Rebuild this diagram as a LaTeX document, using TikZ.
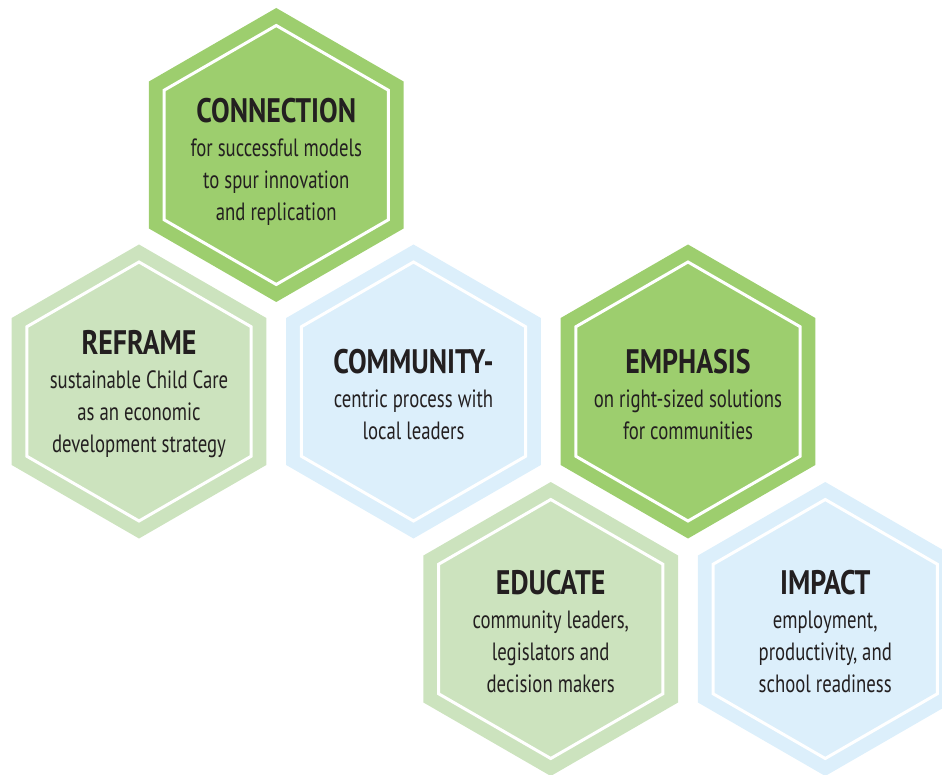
\documentclass[tikz,border=0pt]{standalone}
\usepackage{fontspec}
\setmainfont{PT Sans}[FakeStretch=0.75]
\newfontfamily\headfont{PT Sans}[FakeStretch=0.82]
\usepackage{tikz}
\usetikzlibrary{shapes.geometric,positioning}

\definecolor{leafgreen}{RGB}{157,206,110}
\definecolor{palegreen}{RGB}{204,227,190}
\definecolor{paleblue}{RGB}{220,239,251}
\definecolor{ink}{HTML}{231F20}

\tikzset{
  outerhex/.style = {regular polygon, regular polygon sides = 6, shape border rotate = 30,
                     minimum size = 294pt, inner sep = 0pt, draw = none},
  innerhex/.style = {regular polygon, regular polygon sides = 6, shape border rotate = 30,
                     minimum size = 259pt, inner sep = 0pt, draw = white, line width = 3pt},
  hextext/.style  = {text = ink, align = center, inner sep = 0pt, yshift = -3pt,
                     font = \fontsize{25}{32}\selectfont}
}
\newcommand{\hexhead}[1]{{\headfont\fontsize{34}{34}\selectfont\bfseries #1}\\[2pt]}

\begin{document}
\begin{tikzpicture}[x = 1pt, y = -1pt]
\useasboundingbox (0,0) rectangle (942,775);
\clip (0,0) rectangle (942,775);

% hexagons
\node[outerhex, fill = leafgreen] (connection) at (276.25,155) {};
\node[outerhex, fill = palegreen] (reframe) at (139,391.5) {};
\node[outerhex, fill = paleblue] (community) at (413.5,391.5) {};
\node[outerhex, fill = leafgreen] (emphasis) at (688,391.5) {};
\node[outerhex, fill = palegreen] (educate) at (550.75,629) {};
\node[outerhex, fill = paleblue] (impact) at (825.25,629) {};

% white inner outlines
\foreach \cell in {connection, reframe, community, emphasis, educate, impact}
  \node[innerhex] (\cell-rim) at (\cell.center) {};

% texts
\node[hextext, yshift = -4pt] (connection-text) at (connection) {\hexhead{CONNECTION}for successful models\\to spur innovation\\and replication};
\node[hextext] (reframe-text) at (reframe) {\hexhead{REFRAME}sustainable Child Care\\as an economic\\development strategy};
\node[hextext] (community-text) at (community) {\hexhead{COMMUNITY-}centric process with\\local leaders};
\node[hextext] (emphasis-text) at (emphasis) {\hexhead{EMPHASIS}on right-sized solutions\\for communities};
\node[hextext] (educate-text) at (educate) {\hexhead{EDUCATE}community leaders,\\legislators and\\decision makers};
\node[hextext] (impact-text) at (impact) {\hexhead{IMPACT}employment,\\productivity, and\\school readiness};
\end{tikzpicture}
\end{document}
